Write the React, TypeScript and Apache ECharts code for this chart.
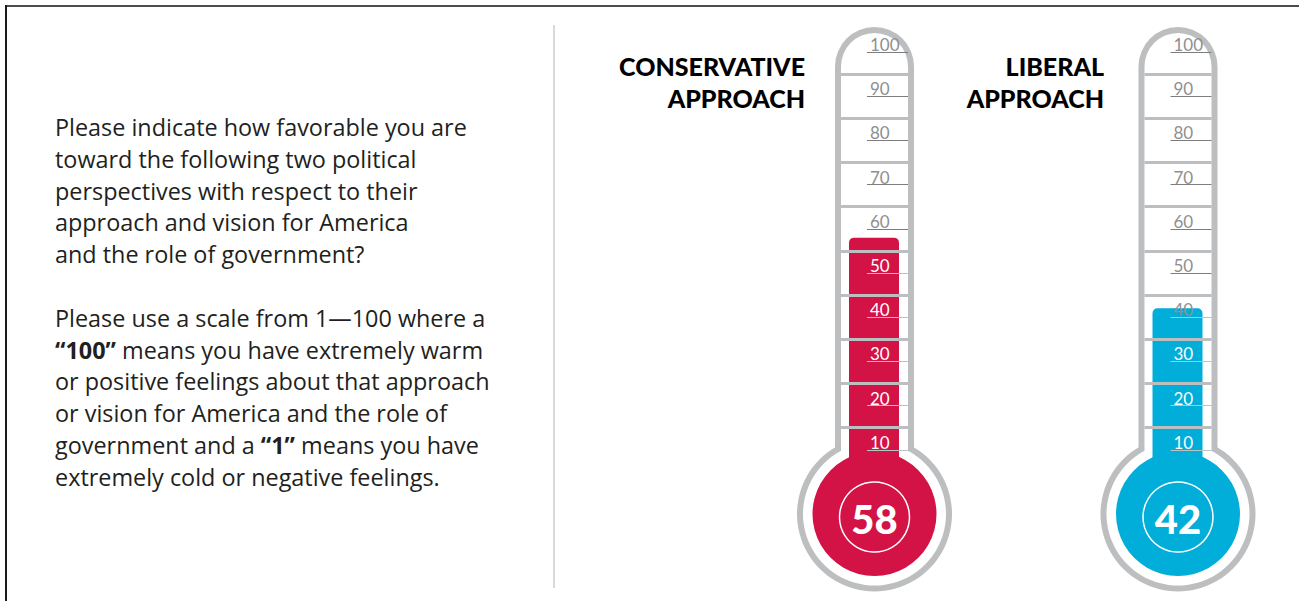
import React, { useEffect, useRef } from "react";
import * as echarts from "echarts";

// ---- data ----
const categories = ["CONSERVATIVE\nAPPROACH", "LIBERAL\nAPPROACH"];
const favorability = [58, 42];
const scaleMin = 0;
const scaleMax = 100;
const scaleStep = 10;
const dividerStep = 5;
const questionLines = [
  "Please indicate how favorable you are",
  "toward the following two political",
  "perspectives with respect to their",
  "approach and vision for America",
  "and the role of government?",
  "",
  "Please use a scale from 1—100 where a",
  "{b|“100”} means you have extremely warm",
  "or positive feelings about that approach",
  "or vision for America and the role of",
  "government and a {b|“1”} means you have",
  "extremely cold or negative feelings.",
];

// ---- style ----
const fillColors = ["#d31245", "#00aed9"];
const titleRight = [805, 1104];
const GRAY = "#bcbec0";
const baseCx = 874.5;
const stepX = 303.5;
const plotTop = 52;
const plotHeight = 442;
const plotBottom = 601 - plotTop - plotHeight;

export default function App() {
  const ref = useRef<HTMLDivElement>(null);
  useEffect(() => {
    if (!ref.current) return;
    const chart = echarts.init(ref.current, undefined, { renderer: "svg" });

    const grids: any[] = [];
    const xAxes: any[] = [];
    const yAxes: any[] = [];
    const series: any[] = [];
    const graphics: any[] = [];

    const tickValues: number[] = [];
    for (let v = scaleMin; v <= scaleMax; v += scaleStep) tickValues.push(v);
    const dividerValues: number[] = [];
    for (let v = scaleMin; v <= scaleMax; v += dividerStep) dividerValues.push(v);

    categories.forEach((cat, i) => {
      const cx = baseCx + i * stepX;
      const val = favorability[i];
      const color = fillColors[i];
      const g0 = grids.length;

      // grid A: bar fill
      grids.push({ left: cx - 25.5, width: 50, top: plotTop, bottom: plotBottom });
      // grid B: tick scale
      grids.push({ left: cx - 7.5, width: 41, top: plotTop, bottom: plotBottom });
      // grid C: dividers
      grids.push({ left: cx - 33.5, width: 67, top: plotTop, bottom: plotBottom });

      xAxes.push({ gridIndex: g0, type: "category", data: [cat], show: false });
      xAxes.push({ gridIndex: g0 + 1, type: "value", show: false });
      xAxes.push({ gridIndex: g0 + 2, type: "value", show: false });

      yAxes.push({ gridIndex: g0, type: "value", min: scaleMin, max: scaleMax, show: false });
      yAxes.push({
        gridIndex: g0 + 1,
        type: "value",
        min: scaleMin,
        max: scaleMax,
        interval: scaleStep,
        z: 6,
        axisLine: { show: false },
        axisTick: { show: false },
        axisLabel: {
          inside: true,
          margin: 3,
          align: "left",
          verticalAlign: "bottom",
          lineHeight: 15,
          fontFamily: "Lato",
          fontWeight: "normal",
          fontSize: 17,
          formatter: (v: number) => (v === scaleMin ? "" : String(v)),
          color: (v: any) => (Number(v) + 4 <= val ? "#ffffff" : "#8f8f8f"),
        },
        splitLine: {
          show: true,
          lineStyle: {
            width: 1,
            color: tickValues.map((v) =>
              v === scaleMin ? "rgba(0,0,0,0)" : v <= val ? "#b9c3c3" : "#7d7d7d"
            ),
          },
        },
      });
      yAxes.push({
        gridIndex: g0 + 2,
        type: "value",
        min: scaleMin,
        max: scaleMax,
        interval: dividerStep,
        z: 5,
        axisLine: { show: false },
        axisTick: { show: false },
        axisLabel: { show: false },
        splitLine: {
          show: true,
          lineStyle: {
            width: 3,
            color: dividerValues.map((v) =>
              v % scaleStep !== 0 && v > 10 ? GRAY : "rgba(0,0,0,0)"
            ),
          },
        },
      });

      series.push({
        type: "bar",
        name: cat,
        xAxisIndex: g0,
        yAxisIndex: g0,
        data: [val],
        barWidth: "100%",
        z: 4,
        itemStyle: { color, borderRadius: [5, 5, 0, 0] },
      });

      // thermometer body
      graphics.push(
        {
          type: "rect",
          z: 1,
          shape: { x: cx - 39.5, y: 27, width: 79, height: 440, r: [39.5, 39.5, 0, 0] },
          style: { fill: GRAY },
        },
        { type: "circle", z: 1, shape: { cx, cy: 514, r: 77.5 }, style: { fill: GRAY } },
        {
          type: "rect",
          z: 2,
          shape: { x: cx - 33.5, y: 33, width: 67, height: 440, r: [33.5, 33.5, 0, 0] },
          style: { fill: "#ffffff" },
        },
        { type: "circle", z: 2, shape: { cx, cy: 514, r: 71.5 }, style: { fill: "#ffffff" } },
        { type: "circle", z: 3, shape: { cx, cy: 514, r: 62 }, style: { fill: color } },
        {
          type: "circle",
          z: 8,
          shape: { cx, cy: 517, r: 35 },
          style: { fill: "none", stroke: "#ffffff", lineWidth: 1.5 },
        },
        {
          type: "text",
          z: 9,
          x: cx,
          y: 519,
          style: {
            text: String(val),
            fill: "#ffffff",
            font: "900 40px Lato",
            textAlign: "center",
            textVerticalAlign: "middle",
          },
        },
        {
          type: "text",
          z: 9,
          x: titleRight[i],
          y: 82,
          style: {
            text: cat,
            fill: "#000000",
            font: "900 25px Lato",
            lineHeight: 32,
            textAlign: "right",
            textVerticalAlign: "middle",
          },
        }
      );
    });

    // frame, separator, question text
    graphics.push(
      { type: "line", z: 0, shape: { x1: 6, y1: 6, x2: 1299, y2: 6 }, style: { stroke: "#4d4d4d", lineWidth: 2 } },
      { type: "line", z: 0, shape: { x1: 6, y1: 5, x2: 6, y2: 601 }, style: { stroke: "#1a1a1a", lineWidth: 2 } },
      { type: "line", z: 0, shape: { x1: 554, y1: 25, x2: 554, y2: 588 }, style: { stroke: "#cccccc", lineWidth: 1.5 } },
      {
        type: "text",
        z: 9,
        x: 55,
        y: 111,
        style: {
          text: questionLines.join("\n"),
          fill: "#231f20",
          fontFamily: "Open Sans",
          fontSize: 23.4,
          lineHeight: 31.8,
          textAlign: "left",
          textVerticalAlign: "top",
          rich: {
            b: { fontFamily: "Open Sans", fontSize: 23.4, fontWeight: "bold", lineHeight: 31.8, fill: "#231f20" },
          },
        },
      }
    );

    chart.setOption({
      animation: false,
      backgroundColor: "#ffffff",
      grid: grids,
      xAxis: xAxes,
      yAxis: yAxes,
      series,
      graphic: { elements: graphics },
    });
    return () => chart.dispose();
  }, []);
  return (
    <div
      ref={ref}
      style={{ position: "absolute", left: 0, top: 0, width: 1299, height: 601 }}
    />
  );
}
